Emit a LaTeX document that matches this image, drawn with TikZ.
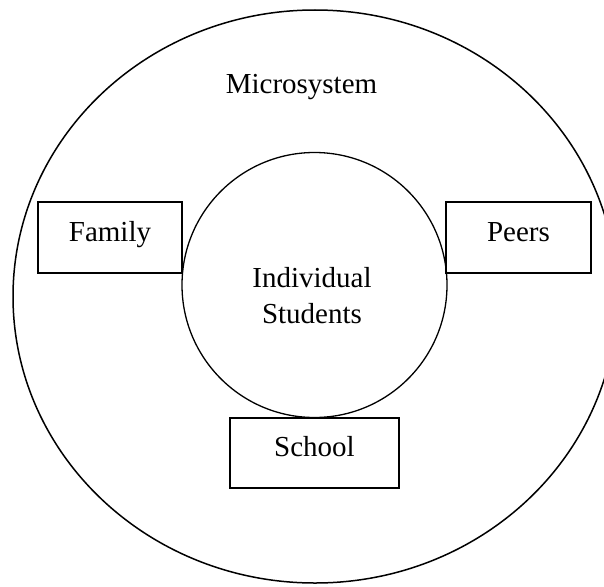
\documentclass[tikz,border=0pt]{standalone}
\usepackage{fontspec}
\setmainfont{Liberation Serif}
\usetikzlibrary{shapes.geometric}
\begin{document}
\begin{tikzpicture}[x=1pt,y=-1pt,
  txt/.style={font=\fontsize{29}{36}\selectfont},
  boxnode/.style={draw, line width=1.8pt, inner sep=0pt, minimum width=#1, minimum height=71pt,
    txt, text height=21pt, text depth=14pt},
  outerring/.style={draw, ellipse, line width=1.5pt, inner sep=0pt},
  innerring/.style={draw, circle, line width=1.3pt, inner sep=0pt, minimum size=265pt}]
\useasboundingbox (0,0) rectangle (604,586);
\node[outerring, minimum width=604pt, minimum height=573pt] (micro) at (315,296.5) {};
\node[txt] (microtext) at (301.5,87) {Microsystem};
\node[innerring] (ind) at (314.5,285) {};
\node[txt, align=center] (indtext) at (312,296) {Individual\\Students};
\node[boxnode=144pt] (family) at (110,237.5) {Family};
\node[boxnode=145pt] (peers) at (518.5,237.5) {Peers};
\node[boxnode=169pt, minimum height=70pt] (school) at (314.5,453) {School};
\end{tikzpicture}
\end{document}
